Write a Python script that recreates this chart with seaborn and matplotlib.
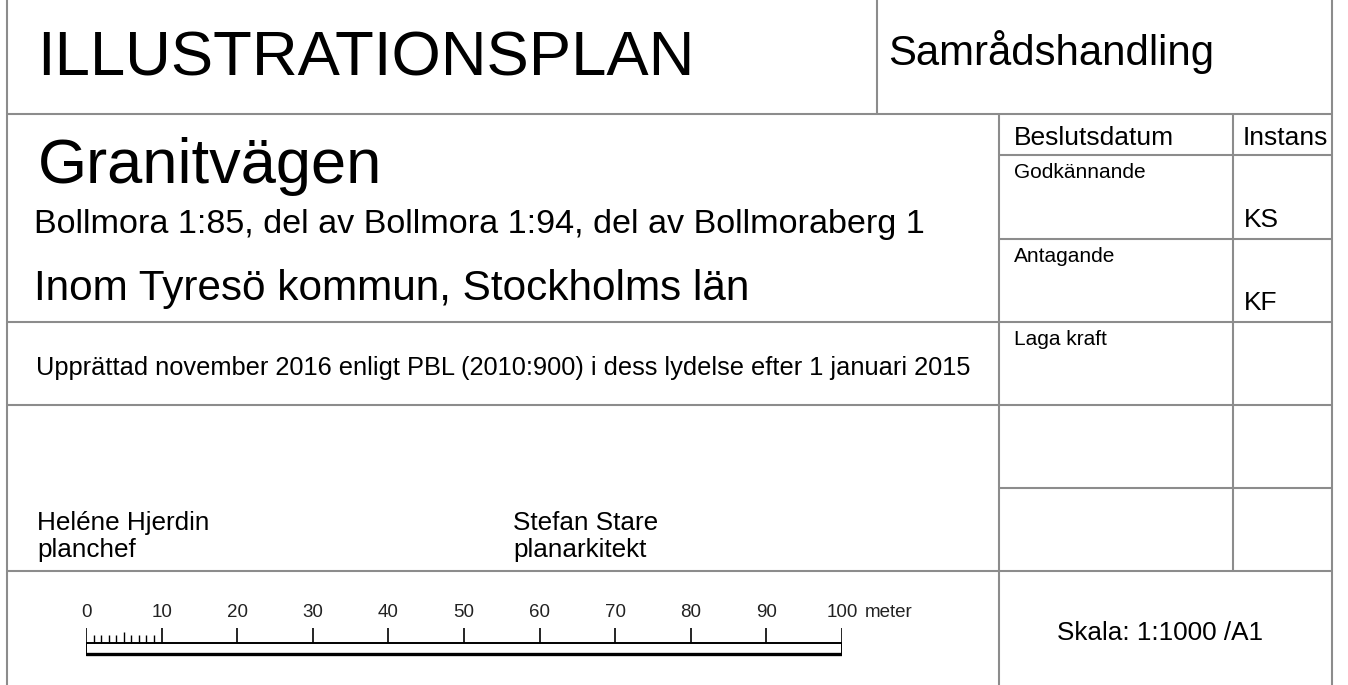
import matplotlib
matplotlib.use("Agg")
import matplotlib.pyplot as plt
import seaborn as sns

# ---- data ----
title_text = "ILLUSTRATIONSPLAN"
status_text = "Samrådshandling"
plan_name = "Granitvägen"
property_text = "Bollmora 1:85, del av Bollmora 1:94, del av Bollmoraberg 1"
municipality_text = "Inom Tyresö kommun, Stockholms län"
prepared_text = "Upprättad november 2016 enligt PBL (2010:900) i dess lydelse efter 1 januari 2015"
signers = ["Heléne Hjerdin", "Stefan Stare"]
signer_roles = ["planchef", "planarkitekt"]
decision_header = ["Beslutsdatum", "Instans"]
decision_steps = ["Godkännande", "Antagande", "Laga kraft"]
decision_bodies = ["KS", "KF", ""]
scale_text = "Skala: 1:1000 /A1"
scale_major = [0, 10, 20, 30, 40, 50, 60, 70, 80, 90, 100]
scale_labels = ["0", "10", "20", "30", "40", "50", "60", "70", "80", "90", "100"]
scale_minor = [1, 2, 3, 4, 5, 6, 7, 8, 9]
scale_unit = "meter"

# ---- figure ----
sns.set_theme(style="white")
plt.rcParams['font.family'] = ['Liberation Sans', 'DejaVu Sans']

W, H = 1348, 685
fig = plt.figure(figsize=(W / 100, H / 100), dpi=100)
fig.patch.set_facecolor("white")
ax = fig.add_axes([0, 0, 1, 1])
ax.set_xlim(0, W)
ax.set_ylim(H, 0)
ax.axis("off")

gc = "#8c8c8c"
lw = 1.5
# frame / grid lines
ax.vlines([7, 1332], 0, H, color=gc, lw=lw)
ax.vlines(877, 0, 114, color=gc, lw=lw)
ax.hlines([114, 322, 405, 571], 7, 1332, color=gc, lw=lw)
ax.vlines(999, 114, H, color=gc, lw=lw)
ax.vlines(1233, 114, 571, color=gc, lw=lw)
ax.hlines([155, 239, 488], 999, 1332, color=gc, lw=lw)

txt = dict(color="black", va="baseline", ha="left")
ax.text(37, 75, title_text, fontsize=45.6, **txt)
ax.text(888, 65, status_text, fontsize=30.2, **txt)
ax.text(38, 183, plan_name, fontsize=45.5, **txt)
ax.text(34, 233, property_text, fontsize=24.6, **txt)
ax.text(34, 300, municipality_text, fontsize=30.4, **txt)
ax.text(36, 375, prepared_text, fontsize=18.3, **txt)

for x, name, role in zip([37, 513], signers, signer_roles):
    ax.text(x, 530, name, fontsize=18.8, **txt)
    ax.text(x, 557, role, fontsize=18.8, **txt)

ax.text(1014, 145, decision_header[0], fontsize=19, **txt)
ax.text(1243, 145, decision_header[1], fontsize=19, **txt)
step_y = [178, 262, 345]
body_y = [227, 310, 393]
for s, sy, b, by in zip(decision_steps, step_y, decision_bodies, body_y):
    ax.text(1014, sy, s, fontsize=15, **txt)
    if b:
        ax.text(1244, by, b, fontsize=19, **txt)

ax.text(1160, 640, scale_text, fontsize=18.8, color="black", va="baseline", ha="center")

# ---- scale bar (meters) ----
y0, y1 = 600, 660
sax = fig.add_axes([86 / W, (H - y1) / H, 756 / W, (y1 - y0) / H])
sax.set_xlim(0, 100)
sax.set_ylim(y1 - y0, 0)
sax.axis("off")
sax.patch.set_alpha(0)

sns.lineplot(x=[scale_major[0], scale_major[-1]], y=[43, 43], ax=sax, color="black", lw=1.4)
sns.lineplot(x=[scale_major[0], scale_major[-1]], y=[54, 54], ax=sax, color="black", lw=2.4)
sax.vlines([scale_major[0], scale_major[-1]], 43, 54, color="black", lw=1.4)
sax.vlines(scale_major, 28, 43, color="black", lw=1.2)
sax.vlines(scale_minor, [32 if m == 5 else 35 for m in scale_minor], 43, color="black", lw=1.0)
for v, lab in zip(scale_major, scale_labels):
    sax.text(v, 17, lab, fontsize=13.5, ha="center", va="baseline", color="#222222", clip_on=False)
sax.text(scale_major[-1] + 3.0, 17, scale_unit, fontsize=13.5, ha="left", va="baseline",
         color="#222222", clip_on=False)

fig.savefig("out.png", dpi=100, facecolor="white")
